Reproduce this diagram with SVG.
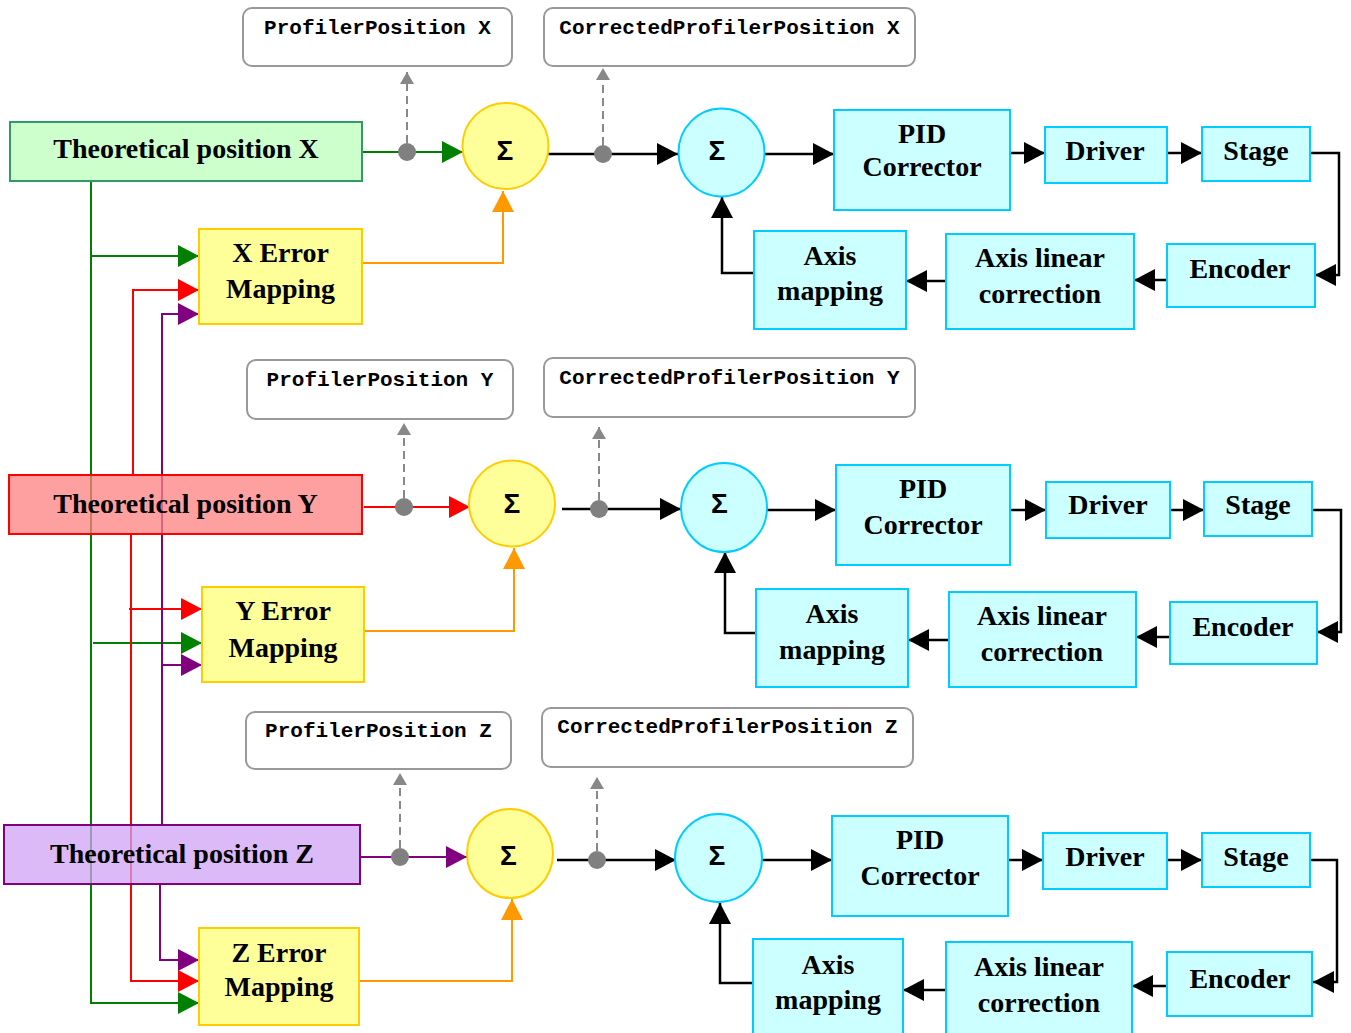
<svg xmlns="http://www.w3.org/2000/svg" width="1351" height="1033" viewBox="0 0 1351 1033">
<style>
.lbl{font-family:"Liberation Serif","Times New Roman",serif;font-weight:bold;font-size:28px;text-anchor:middle;fill:#000}
.mono{font-family:"Liberation Mono","Courier New",monospace;font-weight:bold;font-size:21px;text-anchor:middle;fill:#000}
.sig{font-family:"Liberation Sans",Arial,sans-serif;font-weight:bold;font-size:28px;text-anchor:middle;fill:#000}
.cy{fill:#ccffff;stroke:#00ccff;stroke-width:2}
.yl{fill:#ffff99;stroke:#ffcc00;stroke-width:2}
.gb{fill:#ffffff;stroke:#999999;stroke-width:2}
.k{fill:none;stroke:#000;stroke-width:2.5;marker-end:url(#ak)}
.kn{fill:none;stroke:#000;stroke-width:2.5}
.g{fill:none;stroke:#008000;stroke-width:2;marker-end:url(#ag)}
.gn{fill:none;stroke:#008000;stroke-width:2}
.r{fill:none;stroke:#ff0000;stroke-width:2;marker-end:url(#ar)}
.p{fill:none;stroke:#800080;stroke-width:2;marker-end:url(#ap)}
.o{fill:none;stroke:#ff9900;stroke-width:2;marker-end:url(#ao)}
.d{fill:none;stroke:#888888;stroke-width:2;stroke-dasharray:8 5;marker-end:url(#ad)}
.dot{fill:#808080}
</style>
<defs>
<marker id="ak" markerUnits="userSpaceOnUse" markerWidth="21" markerHeight="22" viewBox="0 0 21 22" refX="21" refY="11" orient="auto"><path d="M0,0 L21,11 L0,22 z" fill="#000"/></marker>
<marker id="ag" markerUnits="userSpaceOnUse" markerWidth="21" markerHeight="22" viewBox="0 0 21 22" refX="21" refY="11" orient="auto"><path d="M0,0 L21,11 L0,22 z" fill="#008000"/></marker>
<marker id="ar" markerUnits="userSpaceOnUse" markerWidth="21" markerHeight="22" viewBox="0 0 21 22" refX="21" refY="11" orient="auto"><path d="M0,0 L21,11 L0,22 z" fill="#ff0000"/></marker>
<marker id="ap" markerUnits="userSpaceOnUse" markerWidth="21" markerHeight="22" viewBox="0 0 21 22" refX="21" refY="11" orient="auto"><path d="M0,0 L21,11 L0,22 z" fill="#800080"/></marker>
<marker id="ao" markerUnits="userSpaceOnUse" markerWidth="21" markerHeight="22" viewBox="0 0 21 22" refX="21" refY="11" orient="auto"><path d="M0,0 L21,11 L0,22 z" fill="#ff9900"/></marker>
<marker id="ad" markerUnits="userSpaceOnUse" markerWidth="12" markerHeight="14" viewBox="0 0 12 14" refX="12" refY="7" orient="auto"><path d="M0,0 L12,7 L0,14 z" fill="#888888"/></marker>
</defs>
<rect width="1351" height="1033" fill="#ffffff"/>

<g id="connectors">
<!-- left feed lines -->
<path class="g" d="M91,181 V1003 H199"/>
<path class="g" d="M91,256 H199"/>
<path class="g" d="M93,643 H202"/>
<path class="r" d="M133,475 V290 H199"/>
<path class="r" d="M131,534 V981 H199"/>
<path class="r" d="M129,609 H202"/>
<path class="p" d="M162,825 V314 H199"/>
<path class="p" d="M161,665 H202"/>
<path class="p" d="M160,884 V960 H199"/>
<!-- row X -->
<path class="g" d="M362,152 H463"/>
<path class="o" d="M362,263 H503 V191"/>
<path class="k" d="M548,154 H678"/>
<path class="k" d="M765,154 H834"/>
<path class="k" d="M1010,153 H1045"/>
<path class="k" d="M1167,153 H1202"/>
<path class="k" d="M1310,153 H1339 V275 H1315"/>
<path class="k" d="M1167,280 H1134"/>
<path class="k" d="M946,281 H906"/>
<path class="k" d="M754,273 H722 V197"/>
<path class="d" d="M407,143 V72"/>
<path class="d" d="M603,145 V68"/>
<circle class="dot" cx="407" cy="152" r="9"/>
<circle class="dot" cx="603" cy="154" r="9"/>
<!-- row Y -->
<path class="r" d="M364,507 H470"/>
<path class="o" d="M364,631 H514 V548"/>
<path class="k" d="M562,509 H681"/>
<path class="k" d="M767,510 H836"/>
<path class="k" d="M1010,510 H1046"/>
<path class="k" d="M1170,510 H1204"/>
<path class="k" d="M1312,510 H1341 V632 H1317"/>
<path class="k" d="M1170,637 H1136"/>
<path class="k" d="M949,640 H908"/>
<path class="k" d="M756,633 H725 V552"/>
<path class="d" d="M404,498 V423"/>
<path class="d" d="M599,500 V427"/>
<circle class="dot" cx="404" cy="507" r="9"/>
<circle class="dot" cx="599" cy="509" r="9"/>
<!-- row Z -->
<path class="p" d="M360,857 H467"/>
<path class="o" d="M359,981 H512 V899"/>
<path class="k" d="M557,860 H676"/>
<path class="k" d="M762,860 H832"/>
<path class="k" d="M1008,860 H1043"/>
<path class="k" d="M1167,860 H1202"/>
<path class="k" d="M1310,860 H1337 V982 H1313"/>
<path class="k" d="M1167,986 H1132"/>
<path class="k" d="M946,990 H903"/>
<path class="k" d="M753,983 H720 V903"/>
<path class="d" d="M400,848 V773"/>
<path class="d" d="M597,851 V777"/>
<circle class="dot" cx="400" cy="857" r="9"/>
<circle class="dot" cx="597" cy="860" r="9"/>
</g>

<!-- Row X nodes -->
<g id="theoX"><rect x="10" y="122" width="352" height="59" fill="#ccffcc" stroke="#339966" stroke-width="2"/><text class="lbl" x="186" y="158">Theoretical position X</text></g>
<g id="errX"><rect class="yl" x="199" y="229" width="163" height="95"/><text class="lbl" x="280.5" y="262">X Error</text><text class="lbl" x="280.5" y="298">Mapping</text></g>
<g id="sumX1"><circle class="yl" cx="505.5" cy="146" r="43"/><text class="sig" x="505" y="160">Σ</text></g>
<g id="profX"><rect class="gb" x="243" y="8" width="269" height="58" rx="9"/><text class="mono" x="377.5" y="34">ProfilerPosition X</text></g>
<g id="corrX"><rect class="gb" x="544" y="8" width="371" height="58" rx="9"/><text class="mono" x="729.5" y="34">CorrectedProfilerPosition X</text></g>
<g id="sumX2"><ellipse class="cy" cx="721.5" cy="152.5" rx="43" ry="44"/><text class="sig" x="717" y="160">Σ</text></g>
<g id="pidX"><rect class="cy" x="834" y="110" width="176" height="100"/><text class="lbl" x="922" y="143">PID</text><text class="lbl" x="922" y="176">Corrector</text></g>
<g id="drvX"><rect class="cy" x="1045" y="127" width="122" height="56"/><text class="lbl" x="1105" y="160">Driver</text></g>
<g id="stgX"><rect class="cy" x="1202" y="127" width="108" height="54"/><text class="lbl" x="1256" y="160">Stage</text></g>
<g id="encX"><rect class="cy" x="1167" y="244" width="148" height="63"/><text class="lbl" x="1240" y="278">Encoder</text></g>
<g id="alcX"><rect class="cy" x="946" y="234" width="188" height="95"/><text class="lbl" x="1040" y="267">Axis linear</text><text class="lbl" x="1040" y="303">correction</text></g>
<g id="amX"><rect class="cy" x="754" y="231" width="152" height="98"/><text class="lbl" x="830" y="265">Axis</text><text class="lbl" x="830" y="300">mapping</text></g>

<!-- Row Y nodes -->
<g id="theoY"><rect x="9" y="475" width="353" height="59" fill="#ff8080" fill-opacity="0.75" stroke="#ff0000" stroke-width="2"/><text class="lbl" x="185.5" y="513">Theoretical position Y</text></g>
<g id="errY"><rect class="yl" x="202" y="587" width="162" height="95"/><text class="lbl" x="283" y="620">Y Error</text><text class="lbl" x="283" y="657">Mapping</text></g>
<g id="sumY1"><circle class="yl" cx="512" cy="503.5" r="43"/><text class="sig" x="512" y="513">Σ</text></g>
<g id="profY"><rect class="gb" x="247" y="360" width="266" height="59" rx="9"/><text class="mono" x="380" y="386">ProfilerPosition Y</text></g>
<g id="corrY"><rect class="gb" x="544" y="358" width="371" height="59" rx="9"/><text class="mono" x="729.5" y="384">CorrectedProfilerPosition Y</text></g>
<g id="sumY2"><ellipse class="cy" cx="724" cy="507.5" rx="43" ry="44.5"/><text class="sig" x="719.5" y="513">Σ</text></g>
<g id="pidY"><rect class="cy" x="836" y="465" width="174" height="100"/><text class="lbl" x="923" y="498">PID</text><text class="lbl" x="923" y="534">Corrector</text></g>
<g id="drvY"><rect class="cy" x="1046" y="482" width="124" height="56"/><text class="lbl" x="1108" y="514">Driver</text></g>
<g id="stgY"><rect class="cy" x="1204" y="482" width="108" height="54"/><text class="lbl" x="1258" y="514">Stage</text></g>
<g id="encY"><rect class="cy" x="1170" y="602" width="147" height="62"/><text class="lbl" x="1243" y="636">Encoder</text></g>
<g id="alcY"><rect class="cy" x="949" y="592" width="187" height="95"/><text class="lbl" x="1042" y="625">Axis linear</text><text class="lbl" x="1042" y="661">correction</text></g>
<g id="amY"><rect class="cy" x="756" y="589" width="152" height="98"/><text class="lbl" x="832" y="623">Axis</text><text class="lbl" x="832" y="659">mapping</text></g>

<!-- Row Z nodes -->
<g id="theoZ"><rect x="4" y="825" width="356" height="59" fill="#d0a2f4" fill-opacity="0.75" stroke="#800080" stroke-width="2"/><text class="lbl" x="182" y="863">Theoretical position Z</text></g>
<g id="errZ"><rect class="yl" x="199" y="928" width="160" height="97"/><text class="lbl" x="279" y="962">Z Error</text><text class="lbl" x="279" y="996">Mapping</text></g>
<g id="sumZ1"><ellipse class="yl" cx="510" cy="853.5" rx="43" ry="44.5"/><text class="sig" x="508.5" y="865">Σ</text></g>
<g id="profZ"><rect class="gb" x="246" y="712" width="265" height="57" rx="9"/><text class="mono" x="378.5" y="737">ProfilerPosition Z</text></g>
<g id="corrZ"><rect class="gb" x="542" y="708" width="371" height="59" rx="9"/><text class="mono" x="727.5" y="733">CorrectedProfilerPosition Z</text></g>
<g id="sumZ2"><ellipse class="cy" cx="718.5" cy="858" rx="43.5" ry="44"/><text class="sig" x="717" y="865">Σ</text></g>
<g id="pidZ"><rect class="cy" x="832" y="816" width="176" height="100"/><text class="lbl" x="920" y="849">PID</text><text class="lbl" x="920" y="885">Corrector</text></g>
<g id="drvZ"><rect class="cy" x="1043" y="833" width="124" height="56"/><text class="lbl" x="1105" y="866">Driver</text></g>
<g id="stgZ"><rect class="cy" x="1202" y="833" width="108" height="54"/><text class="lbl" x="1256" y="866">Stage</text></g>
<g id="encZ"><rect class="cy" x="1167" y="952" width="145" height="64"/><text class="lbl" x="1240" y="988">Encoder</text></g>
<g id="alcZ"><rect class="cy" x="946" y="942" width="186" height="100"/><text class="lbl" x="1039" y="976">Axis linear</text><text class="lbl" x="1039" y="1012">correction</text></g>
<g id="amZ"><rect class="cy" x="753" y="939" width="150" height="100"/><text class="lbl" x="828" y="974">Axis</text><text class="lbl" x="828" y="1009">mapping</text></g>
</svg>
